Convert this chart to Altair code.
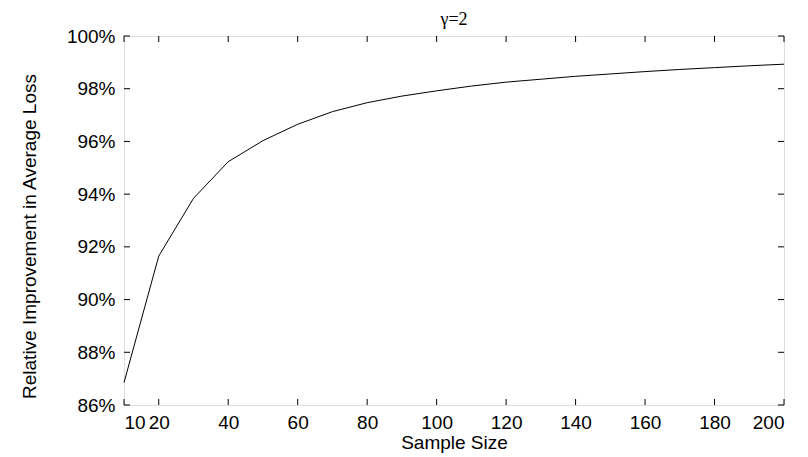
import altair as alt
import pandas as pd

# Data
sample_sizes = [10, 20, 30, 40, 50, 60, 70, 80, 90, 100,
                110, 120, 130, 140, 150, 160, 170, 180, 190, 200]
improvement = [86.85, 91.65, 93.84, 95.23, 96.03, 96.65, 97.13, 97.47, 97.72, 97.92,
               98.10, 98.25, 98.36, 98.47, 98.56, 98.65, 98.73, 98.80, 98.87, 98.93]

x_ticks = [10, 20, 40, 60, 80, 100, 120, 140, 160, 180, 200]
y_ticks = [86, 88, 90, 92, 94, 96, 98, 100]

W, H = 660, 369
FONT = "Liberation Sans"

df = pd.DataFrame({"n": sample_sizes, "v": improvement})
xt = pd.DataFrame({"n": x_ticks})
yt = pd.DataFrame({"v": y_ticks})

xscale = alt.Scale(domain=[10, 200], nice=False, zero=False)
yscale = alt.Scale(domain=[86, 100], nice=False, zero=False)

line = alt.Chart(df).mark_line(color="black", strokeWidth=1).encode(
    x=alt.X("n:Q", scale=xscale,
            axis=alt.Axis(values=x_ticks, title="Sample Size", ticks=False, tickSize=0,
                          domain=False, grid=False, labelPadding=8,
                          labelFont=FONT, labelFontSize=19, labelColor="black",
                          titleFont=FONT, titleFontSize=19, titleFontWeight="normal",
                          titleColor="black", titleY=43, titleBaseline="alphabetic")),
    y=alt.Y("v:Q", scale=yscale,
            axis=alt.Axis(values=y_ticks, title="Relative Improvement in Average Loss",
                          ticks=False, tickSize=0, domain=False, grid=False,
                          labelPadding=9, labelExpr="datum.value + '%'",
                          labelFont=FONT, labelFontSize=19, labelColor="black",
                          titleFont=FONT, titleFontSize=19, titleFontWeight="normal",
                          titleColor="black", titleX=-89, titleY=200,
                          titleBaseline="alphabetic")),
)

tick_len = 6
xt_bottom = alt.Chart(xt).mark_rule(color="black", strokeWidth=1).encode(
    x=alt.X("n:Q", scale=xscale), y=alt.value(H), y2=alt.value(H - tick_len))
xt_top = alt.Chart(xt).mark_rule(color="black", strokeWidth=1).encode(
    x=alt.X("n:Q", scale=xscale), y=alt.value(0), y2=alt.value(tick_len))
yt_left = alt.Chart(yt).mark_rule(color="black", strokeWidth=1).encode(
    y=alt.Y("v:Q", scale=yscale), x=alt.value(0), x2=alt.value(tick_len))
yt_right = alt.Chart(yt).mark_rule(color="black", strokeWidth=1).encode(
    y=alt.Y("v:Q", scale=yscale), x=alt.value(W - tick_len), x2=alt.value(W))

chart = alt.layer(line, xt_bottom, xt_top, yt_left, yt_right).properties(
    width=W, height=H,
    title=alt.TitleParams("γ=2", font="Liberation Serif", fontSize=18,
                          fontWeight="normal", color="black", anchor="middle",
                          baseline="alphabetic", offset=4, dy=20),
    autosize=alt.AutoSizeParams(type="none"),
    padding={"left": 116, "top": 28, "right": 16, "bottom": 52},
).configure_view(stroke="black", strokeWidth=1).configure(background="white")

chart.save("out.html", embed_options={"renderer": "svg", "actions": False})
